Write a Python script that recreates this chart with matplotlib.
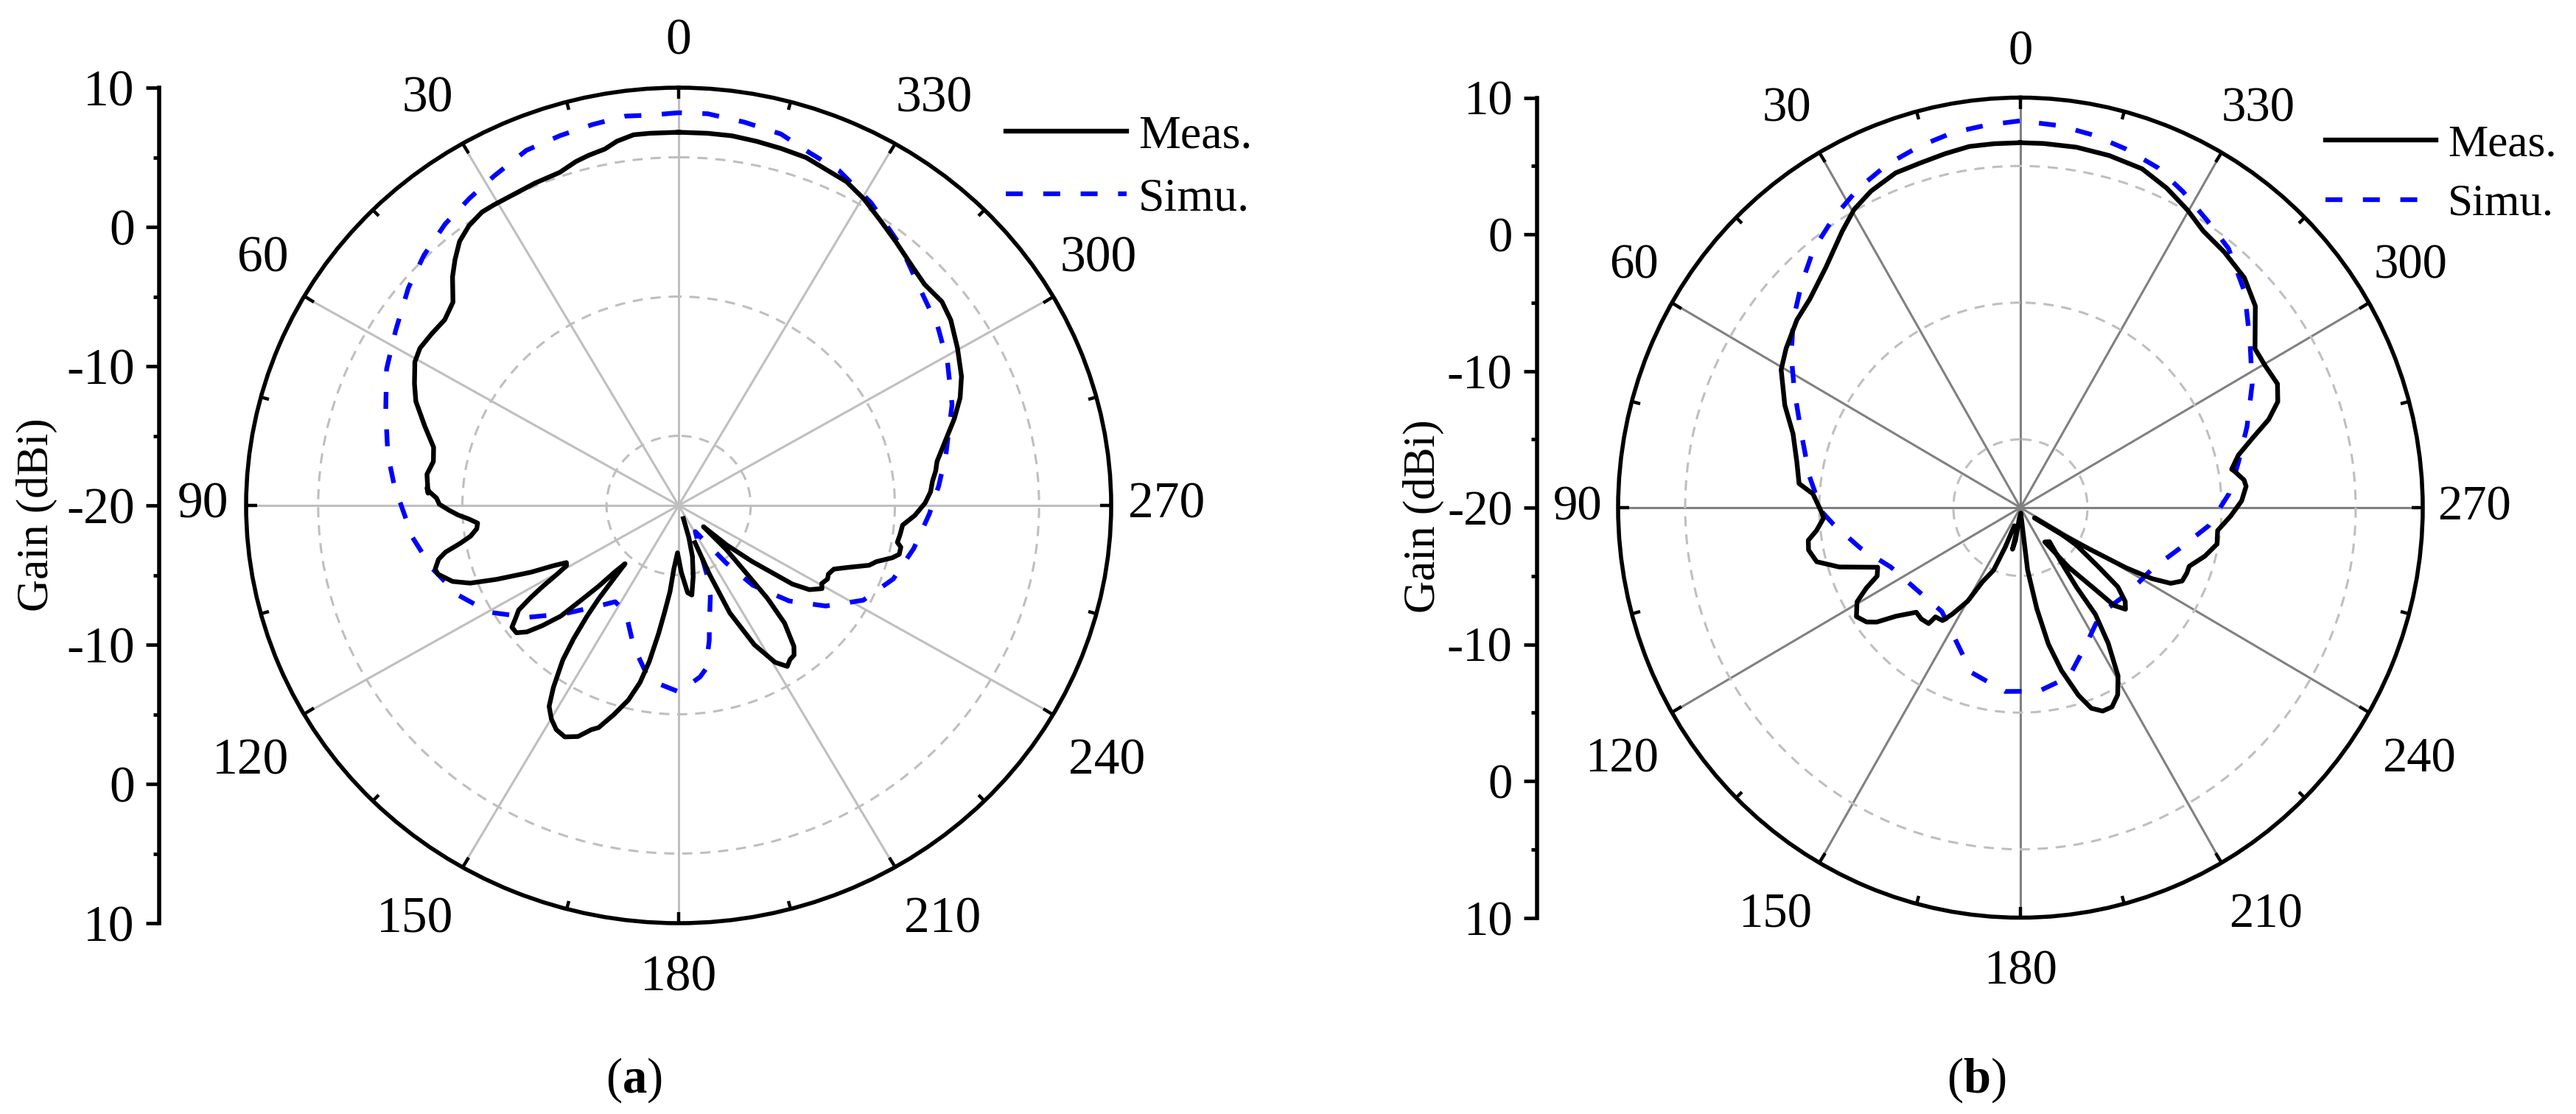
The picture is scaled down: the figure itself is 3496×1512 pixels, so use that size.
import numpy as np
import matplotlib
matplotlib.use('Agg')
import matplotlib.pyplot as plt

plt.rcParams['font.family'] = ['Liberation Serif', 'DejaVu Serif']
plt.rcParams['mathtext.fontset'] = 'custom'
plt.rcParams['mathtext.rm'] = 'Liberation Serif'
plt.rcParams['mathtext.bf'] = 'Liberation Serif:bold'

nan = np.nan

# (a)
meas_a_theta = [0.0,4.3,6.7,9.3,11.3,14.0,16.1,19.0,23.3,26.9,30.7,32.9,35.9,38.7,41.3,43.7,47.0,50.6,54.2,57.8,60.6,64.5,67.7,72.1,76.2,79.5,82.7,87.1,85.9,86.8,88.2,89.7,91.3,92.6,93.8,95.2,96.8,98.7,100.2,101.7,103.1,105.2,106.5,109.2,111.1,112.8,115.1,116.5,117.8,119.1,120.4,121.6,122.8,124.1,125.6,127.1,129.1,130.8,132.4,134.2,135.1,136.3,137.1,138.4,139.5,140.4,141.4,142.7,144.1,146.4,148.1,150.1,152.2,154.6,157.2,159.4,160.8,163.3,166.0,168.1,169.7,171.4,172.7,174.5,175.8,178.7,182.2,185.7,188.1,191.2,194.6,197.1,199.3,nan,203.0,203.4,204.7,207.7,210.7,213.1,214.9,216.7,218.3,221.0,222.7,224.1,226.2,228.4,229.6,231.7,233.7,234.4,236.3,239.0,240.5,242.9,244.6,247.0,249.1,252.0,253.6,255.8,257.1,259.0,260.1,262.2,264.8,267.5,270.6,273.2,275.7,277.9,280.0,284.2,288.0,291.6,295.3,300.3,305.2,308.7,312.9,316.6,321.5,325.7,329.8,333.4,337.0,340.5,344.5,348.3,352.1,355.7,360]
meas_a_gain = [6.8,6.8,6.8,6.5,6.1,5.9,5.7,5.3,5.2,5.1,5.1,5.1,4.8,4.3,3.5,2.7,1.4,1.0,1.1,1.2,1.0,0.3,-0.3,-1.5,-2.5,-2.7,-2.4,-2.6,-2.5,-2.7,-3.2,-3.4,-4.1,-4.7,-5.4,-6.0,-5.9,-5.4,-4.6,-3.5,-2.9,-2.5,-2.6,-3.4,-4.5,-6.3,-8.7,-10.3,-11.2,-11.1,-10.2,-9.0,-7.8,-6.6,-6.1,-5.5,-5.5,-6.1,-7.2,-8.6,-10.3,-12.0,-13.4,-14.4,-13.0,-11.3,-9.8,-8.0,-6.3,-4.3,-3.0,-2.3,-1.8,-1.6,-2.0,-2.8,-3.1,-4.3,-5.6,-7.0,-8.6,-10.7,-12.2,-13.8,-15.4,-16.6,-15.2,-13.7,-13.5,-14.8,-16.2,-17.6,-19.0,nan,-17.1,-14.6,-11.5,-8.7,-6.9,-6.2,-6.5,-6.6,-7.1,-8.8,-10.9,-13.4,-15.4,-17.7,-15.6,-13.5,-11.4,-10.3,-9.1,-8.4,-8.6,-8.4,-8.5,-8.3,-7.5,-6.1,-5.7,-4.7,-4.3,-4.3,-4.6,-4.5,-4.4,-3.6,-2.9,-2.5,-2.3,-2.0,-1.8,-0.9,0.1,1.0,1.7,2.4,3.1,3.4,3.3,3.6,4.2,4.8,5.5,6.0,6.2,6.5,6.6,6.7,6.8,6.8,6.8]
simu_a_theta = [0.0,4.1,7.5,12.3,17.2,22.5,28.4,33.3,38.7,44.5,50.2,57.4,64.2,71.7,79.7,86.7,89.5,97.1,104.7,112.8,120.3,127.5,134.5,143.5,147.5,154.4,162.9,170.8,180.2,186.9,189.1,192.4,194.0,198.6,201.6,203.6,211.6,216.3,218.6,221.9,228.2,234.7,242.0,250.5,259.3,268.0,274.5,281.2,290.9,298.9,305.6,312.5,320.6,328.4,335.2,340.2,345.1,350.6,355.9,360.0]
simu_a_gain = [8.2,8.1,8.2,8.0,7.8,7.6,6.9,6.4,5.9,5.2,4.4,3.3,2.5,1.4,0.5,-0.3,-0.7,-1.4,-2.3,-3.4,-4.8,-6.8,-8.9,-11.1,-11.8,-11.5,-9.4,-7.3,-6.6,-7.6,-8.1,-10.1,-11.2,-13.1,-14.7,-16.0,-17.8,-16.4,-14.7,-12.3,-9.7,-7.5,-5.5,-4.2,-3.4,-2.6,-1.9,-1.1,0.3,1.3,2.1,2.8,4.2,5.5,6.5,6.9,7.6,7.9,8.2,8.2]

# (b)
meas_b_theta = [0.1,4.2,8.2,12.2,16.5,20.8,25.7,29.6,33.3,39.5,45.8,50.5,56.3,60.5,66.9,72.3,78.7,83.9,86.3,91.6,93.0,96.3,98.6,101.1,104.6,107.8,112.3,115.1,117.1,119.5,123.1,126.1,128.0,130.6,134.6,137.8,141.1,141.6,144.9,146.9,150.1,152.5,156.4,158.6,161.1,170.5,169.0,171.3,173.8,183.9,186.1,186.7,189.4,191.8,194.4,197.5,199.8,202.4,205.1,207.9,210.6,213.4,215.6,215.7,217.3,221.0,215.9,219.6,223.0,224.3,226.5,228.7,231.4,233.3,236.7,237.6,234.6,237.6,239.6,240.8,242.1,243.7,246.0,248.9,251.2,255.5,259.7,263.5,267.8,271.7,275.3,276.9,279.4,280.1,283.3,286.5,289.2,292.0,295.3,299.6,303.6,310.1,315.2,320.9,326.0,330.3,335.0,339.9,345.6,351.0,356.3,360]
meas_b_gain = [6.7,6.7,6.7,6.5,6.3,6.2,5.7,5.1,4.2,2.8,1.9,1.6,1.0,0.5,-0.9,-2.2,-3.0,-3.4,-4.5,-5.2,-5.3,-4.7,-4.0,-3.9,-4.3,-5.8,-8.5,-8.2,-7.1,-6.0,-5.4,-5.8,-6.4,-7.8,-9.1,-9.0,-9.1,-9.8,-9.9,-10.7,-12.1,-13.9,-15.0,-16.9,-18.6,-18.1,-16.9,-17.6,-19.2,-19.6,-18.4,-15.4,-12.5,-9.8,-7.7,-5.6,-4.4,-3.9,-3.9,-4.5,-5.7,-8.1,-10.4,-12.8,-15.0,-16.7,-16.9,-14.3,-11.8,-10.0,-9.2,-9.6,-10.7,-12.7,-15.0,-16.4,-18.7,-16.4,-13.9,-11.0,-8.9,-7.5,-6.8,-6.7,-6.7,-5.8,-5.1,-5.2,-4.3,-3.5,-3.1,-3.2,-3.8,-4.0,-3.3,-1.9,-0.4,0.7,1.2,1.0,1.0,2.9,3.7,4.1,4.4,5.1,5.8,6.4,6.6,6.7,6.7,6.7]
simu_b_theta = [0.1,5.2,10.4,15.8,21.6,27.3,33.2,39.2,45.0,51.0,56.9,63.1,71.7,81.7,91.2,95.0,103.9,114.2,127.7,142.4,155.3,163.1,175.1,185.8,196.3,205.7,217.6,232.7,245.5,256.2,264.6,273.8,281.6,289.3,297.6,305.4,313.4,320.7,326.4,332.3,337.6,343.4,348.8,354.0,360]
simu_b_gain = [8.3,8.1,7.9,7.5,7.0,6.3,5.4,4.4,3.1,1.8,0.4,-1.1,-2.8,-4.1,-5.2,-6.0,-7.7,-9.4,-10.2,-10.4,-8.9,-7.4,-6.5,-6.5,-7.1,-8.8,-10.2,-9.8,-9.2,-7.7,-5.9,-4.4,-3.4,-2.1,-0.5,1.0,3.0,4.5,5.2,6.1,6.9,7.4,7.8,8.1,8.3]

theta_labels = [0,30,60,90,120,150,180,210,240,270,300,330]
ring_gains = [-15,-5,5]
side_ticks = [-30,-20,-10,0,10,20,30]
side_minor = [-25,-15,-5,5,15,25]
side_labels = ['10','0','-10','-20','-10','0','10']

# where the angle labels sit, in radii of the ellipse from the centre
label_off = [(0,1.11),(.581,.972),(.961,.59),(1.10,0),(.99,-.614),(.61,-.993),
             (0,-1.132),(-.61,-.993),(-.99,-.614),(-1.128,0),(-.97,.59),(-.59,.972)]

W, H = 3496, 1512
PX = 72/100.0

fig = plt.figure(figsize=(W/100, H/100), dpi=100)


def panel(cx, cy, rx, ry, spine_x, grid_col, fs, meas, simu, ylab_x, ylab_y, leg, cap, cap_x):
    ax = fig.add_axes([(cx-rx)/W, 1-(cy+ry)/H, 2*rx/W, 2*ry/H], projection='polar')
    ax.set_aspect('auto')
    ax.set_theta_zero_location('N')
    ax.set_ylim(-20, 10)
    ax.set_yticks(ring_gains)
    ax.set_yticklabels([])
    ax.set_xticks(np.radians(theta_labels))
    ax.set_xticklabels([])
    ax.set_xticks(np.radians(np.arange(15, 360, 30)), minor=True)
    ax.grid(True, axis='x', color=grid_col, lw=2.2, ls='-')
    ax.grid(True, axis='y', color='#bfbfbf', lw=2.2, ls=(0, (4.5, 3.5)))
    ax.tick_params(axis='x', which='major', direction='in', bottom=False, top=True, length=11, width=3.2, color='k')
    ax.tick_params(axis='x', which='minor', direction='in', bottom=False, top=True, length=8, width=3.2, color='k')
    ax.tick_params(axis='y', length=0)
    ax.spines['polar'].set_linewidth(4)
    ax.set_axisbelow(True)
    for t, (u, v) in zip(theta_labels, label_off):
        ax.text(0.5-0.5*u, 0.5+0.5*v, str(t), ha='center', va='center', fontsize=fs,
                transform=ax.transAxes, clip_on=False)
    l2, = ax.plot(np.radians(simu[0]), simu[1], color='#0000ff', lw=4.6, ls=(0, (3.6, 4.35)),
                  dash_capstyle='butt', label='Simu.')
    l1, = ax.plot(np.radians(meas[0]), meas[1], color='k', lw=4.6, label='Meas.')

    side = fig.add_axes([spine_x/W, 1-(cy+ry)/H, 1/W, 2*ry/H])
    side.patch.set_visible(False)
    for s in ['top', 'right', 'bottom']:
        side.spines[s].set_visible(False)
    side.spines['left'].set_linewidth(4)
    side.set_xticks([])
    side.set_ylim(-30, 30)
    side.set_yticks(side_ticks)
    side.set_yticklabels(side_labels, fontsize=fs)
    side.set_yticks(side_minor, minor=True)
    side.tick_params(axis='y', which='major', length=13, width=3.4, pad=11)
    side.tick_params(axis='y', which='minor', length=5.5, width=3.4)

    fig.text(ylab_x/W, 1-ylab_y/H, 'Gain (dBi)', rotation=90, ha='center', va='center', fontsize=44)
    em = leg[3]/PX
    ax.legend([l1, l2], ['Meas.', 'Simu.'], loc='upper left', frameon=False,
              bbox_to_anchor=(leg[0]/W, 1-leg[1]/H), bbox_transform=fig.transFigure,
              borderpad=0, borderaxespad=0, handlelength=leg[2]/em, handletextpad=16/em,
              labelspacing=0.4, fontsize=leg[3])
    fig.text(cap_x/W, 1-1466/H, cap, ha='center', va='center', fontsize=48)


panel(921, 686, 587, 567, 216, '#bfbfbf', 50, (meas_a_theta, meas_a_gain), (simu_a_theta, simu_a_gain),
      50, 699, (1365, 156, 164, 46), r'($\mathbf{a}$)', 860)
panel(2742, 689, 546, 556.5, 2086, '#808080', 48, (meas_b_theta, meas_b_gain), (simu_b_theta, simu_b_gain),
      1932, 701, (3156, 169, 150, 44), r'($\mathbf{b}$)', 2682)

fig.savefig('out.png', dpi=100)
